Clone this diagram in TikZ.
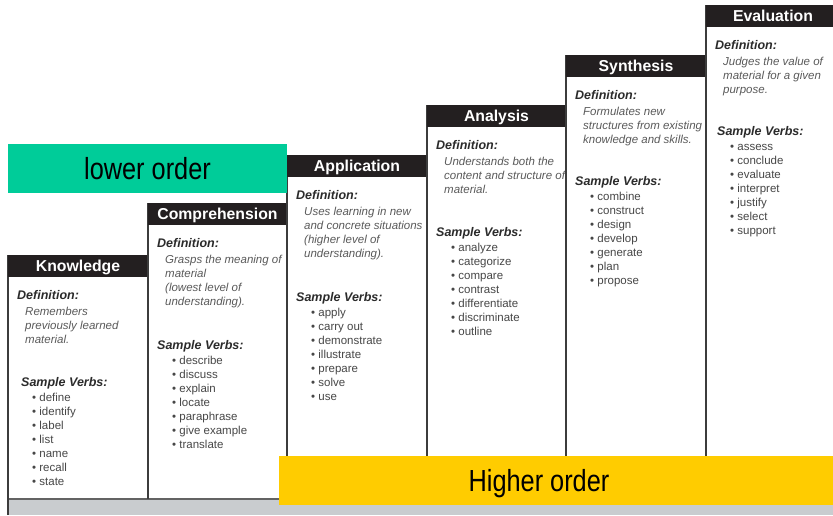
\documentclass[tikz,border=0pt]{standalone}
\usepackage{fontspec}
\setmainfont{Liberation Sans}
\newfontfamily\narrowfont[FakeStretch=0.83]{Liberation Sans}
\definecolor{hdrblack}{HTML}{231F20}
\definecolor{colline}{HTML}{3C3C3C}
\definecolor{bandgray}{HTML}{C9CCCF}
\definecolor{lowgreen}{HTML}{00CC99}
\definecolor{highyellow}{HTML}{FFCC00}
\definecolor{labcol}{HTML}{2B2B2B}
\definecolor{defcol}{HTML}{5A5A5A}
\definecolor{verbcol}{HTML}{474747}
\newcommand\bloomcol[9]{%
  \draw[colline] (#2,#4) -- (#2,499);
  \node[hdr, minimum width={#3-#2}] (#1h) at ({(#2+#3)/2},#4+11) {#5};
  \node[deflab] (#1d) at (#2+9,#4+44.5) {Definition:};
  \foreach \t [count=\i] in {#6} {\node[deftxt] (#1l\i) at (#2+17,{#4+60.8+13.8*(\i-1)}) {\t};}
  \node[deflab] (#1s) at (#2+#8,#4+#7+6.5) {Sample Verbs:};
  \foreach \t [count=\i] in {#9} {\node[verbtxt] (#1v\i) at (#2+24,{#4+#7+21.8+14*(\i-1)}) {\textbullet\ \t};}
}
\begin{document}
\begin{tikzpicture}[x=1pt,y=-1pt,
  colline/.style={draw=colline, line width=1.5pt},
  hdr/.style={fill=hdrblack, text=white, inner sep=0pt, minimum height=22pt,
    text height=12pt, text depth=1.2pt, font=\fontsize{15.8}{18}\selectfont\bfseries},
  deflab/.style={anchor=base west, inner sep=0pt, text=labcol,
    font=\fontsize{12.5}{15}\selectfont\bfseries\itshape},
  deftxt/.style={anchor=base west, inner sep=0pt, text=defcol,
    font=\fontsize{11.5}{14}\selectfont\itshape},
  verbtxt/.style={anchor=base west, inner sep=0pt, text=verbcol,
    font=\fontsize{11.5}{14}\selectfont},
  bandbox/.style={inner sep=0pt, anchor=north west},
  bandtxt/.style={anchor=base, inner sep=0pt, text=black,
    font=\narrowfont\fontsize{30.5}{34}\selectfont}
]
\useasboundingbox (0,0) rectangle (833,515);
\fill[white] (0,0) rectangle (833,515);
% bottom band
\fill[bandgray] (8,499) rectangle (833,515);
\draw[draw=colline!80, line width=2pt] (8,499) -- (833,499);
\draw[colline] (8,499) -- (8,515);
% columns
\bloomcol{k}{8}{148}{255}{Knowledge}{{Remembers},{previously learned},{material.}}{125}{13}{define,identify,label,list,name,recall,state}
\bloomcol{c}{148}{287}{203}{Comprehension}{{Grasps the meaning of},{material},{(lowest level of},{understanding).}}{140}{9}{describe,discuss,explain,locate,paraphrase,give example,translate}
\bloomcol{a}{287}{427}{155}{Application}{{Uses learning in new},{and concrete situations},{(higher level of},{understanding).}}{140}{9}{apply,carry out,demonstrate,illustrate,prepare,solve,use}
\bloomcol{n}{427}{566}{105}{Analysis}{{Understands both the},{content and structure of},{material.}}{125}{9}{analyze,categorize,compare,contrast,differentiate,discriminate,outline}
\bloomcol{s}{566}{706}{55}{Synthesis}{{Formulates new},{structures from existing},{knowledge and skills.}}{124}{9}{combine,construct,design,develop,generate,plan,propose}
\bloomcol{e}{706}{840}{5}{Evaluation}{{Judges the value of},{material for a given},{purpose.}}{124}{11}{assess,conclude,evaluate,interpret,justify,select,support}
% order boxes
\node[bandbox, fill=lowgreen, minimum width=279pt, minimum height=49pt] (low) at (8,144) {};
\node[bandtxt] (lowtxt) at (147.5,179.5) {lower order};
\node[bandbox, fill=highyellow, minimum width=554pt, minimum height=49pt] (high) at (279,456) {};
\node[bandtxt] (hightxt) at (539,491.5) {Higher order};
\end{tikzpicture}
\end{document}
